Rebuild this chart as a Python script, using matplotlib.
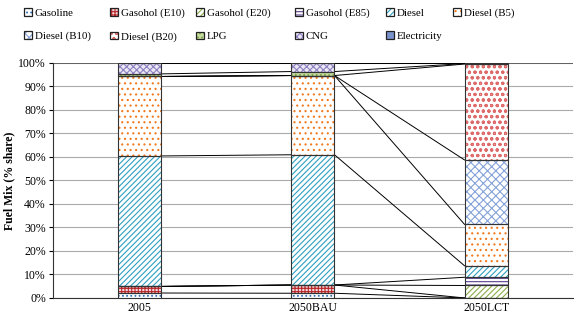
import numpy as np
import matplotlib.pyplot as plt
import matplotlib.patches as mpatches

plt.rcParams['font.family'] = ['Liberation Serif', 'DejaVu Serif']
plt.rcParams['hatch.linewidth'] = 0.8

scenarios = ['2005', '2050BAU', '2050LCT']
fuels = ['Gasoline', 'Gasohol (E10)', 'Gasohol (E20)', 'Gasohol (E85)', 'Diesel',
         'Diesel (B5)', 'Diesel (B10)', 'Diesel (B20)', 'LPG', 'CNG', 'Electricity']

# share (%) per fuel for 2005, 2050BAU, 2050LCT
gasoline = [2.1, 2.0, 0.0]
e10 = [2.8, 3.5, 0.0]
e20 = [0.0, 0.0, 5.3]
e85 = [0.0, 0.0, 3.5]
diesel = [55.5, 55.4, 4.9]
b5 = [33.8, 33.7, 17.6]
b10 = [0.0, 0.0, 27.4]
b20 = [0.0, 0.0, 40.8]
lpg = [1.1, 1.7, 0.2]
cng = [4.7, 3.7, 0.2]
electricity = [0.0, 0.0, 0.1]

shares = [gasoline, e10, e20, e85, diesel, b5, b10, b20, lpg, cng, electricity]

# (face, hatch colour, hatch)
styles = [
    ('white', '#2f6fb5', '....'),
    ('#f3d6d6', '#b8262b', '+++++'),
    ('white', '#8aae48', '//////'),
    ('white', '#5b3f8e', '-----'),
    ('white', '#2f9fc0', '//////'),
    ('white', '#f07a20', '...'),
    ('white', '#86a3d8', 'xxxx'),
    ('white', '#de6b6b', 'ooo'),
    ('#c5dba0', '#7fa447', '....'),
    ('#ebe8f5', '#8f80c0', 'xxxxx'),
    ('#7b93cc', '#5a72b0', ''),
]

fig = plt.figure(figsize=(5.74, 3.19), dpi=100)
ax = fig.add_axes([0.092, 0.066, 0.906, 0.737])

x = np.arange(len(scenarios))
w = 0.25
bottom = np.zeros(len(scenarios))
tops = []
handles = []
for vals, (fc, hc, h) in zip(shares, styles):
    vals = np.array(vals)
    b = ax.bar(x, vals, w, bottom=bottom, color=fc, edgecolor=hc, hatch=h,
               linewidth=0, zorder=3)
    ax.bar(x, vals, w, bottom=bottom, fill=False, edgecolor='#333333',
           linewidth=0.8, zorder=4)
    outline = mpatches.Patch(fill=False, edgecolor='#222222', linewidth=0.9)
    handles.append((b, outline))
    bottom = bottom + vals
    tops.append(bottom.copy())

# series lines between bars
for t in tops:
    for i in range(len(scenarios) - 1):
        ax.plot([x[i] + w / 2, x[i + 1] - w / 2], [t[i], t[i + 1]],
                color='black', lw=0.7, zorder=2)

ax.set_xlim(-0.5, 2.5)
ax.set_ylim(0, 100)
ax.set_yticks(np.arange(0, 101, 10))
ax.set_yticklabels([f'{v}%' for v in range(0, 101, 10)], fontsize=8.5)
ax.set_xticks(x)
ax.set_xticklabels(scenarios, fontsize=8.5)
ax.tick_params(axis='x', length=0, pad=3)
ax.tick_params(axis='y', length=3, width=0.8, pad=2)
ax.yaxis.grid(True, color='#aaaaaa', lw=0.8)
ax.set_axisbelow(True)
for s in ['top', 'right']:
    ax.spines[s].set_visible(False)
ax.axhline(100, color='#555555', lw=1.2, zorder=1)
ax.spines['left'].set_color('#333333')
ax.spines['bottom'].set_color('#333333')
ax.set_ylabel('Fuel Mix (% share)', fontsize=8.5, fontweight='bold', labelpad=2)

# legend: 6 columns, two rows, each column placed on its own
col_x = [24, 110, 196, 295, 386, 453]
for c, cx in enumerate(col_x):
    idx = [i for i in (c, c + 6) if i < len(fuels)]
    leg = fig.legend([handles[i] for i in idx], [fuels[i] for i in idx],
                     loc='upper left', bbox_to_anchor=(cx / 574, 1 - 8 / 319),
                     frameon=False, fontsize=7.8, handlelength=0.75,
                     handleheight=0.75, handletextpad=0.25,
                     labelspacing=1.25, borderpad=0, borderaxespad=0)

fig.savefig('out.png', dpi=100)
